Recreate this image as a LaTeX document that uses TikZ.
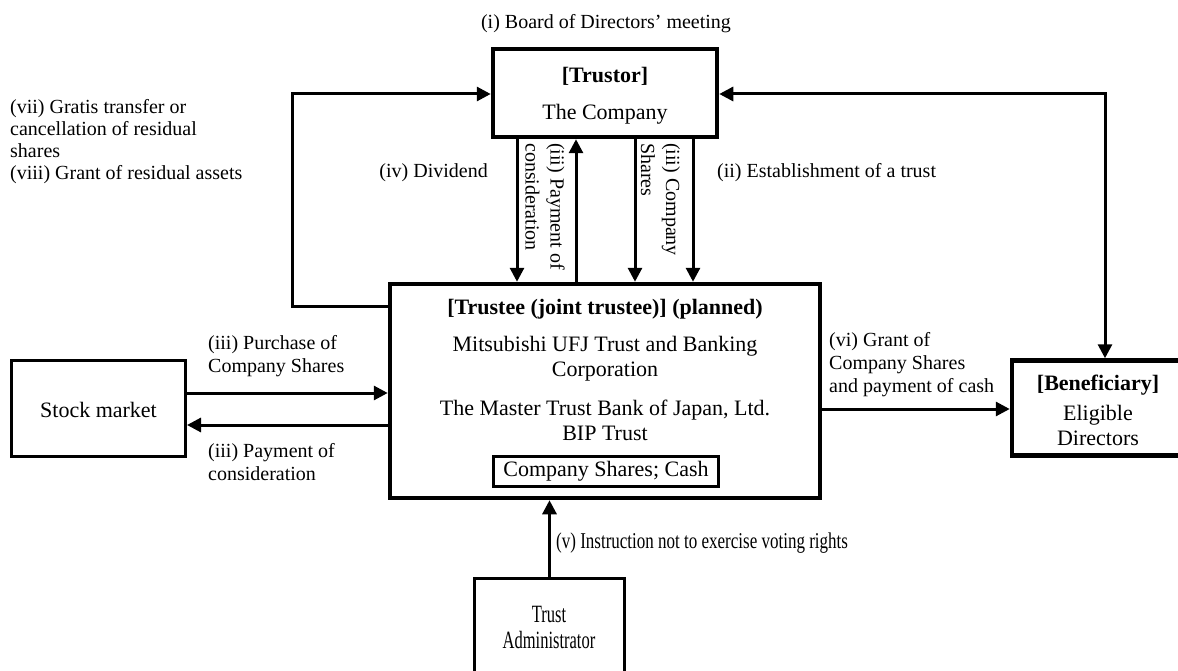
\documentclass[tikz,border=0pt]{standalone}
\usepackage{fontspec}
\usepackage{graphicx}
\setmainfont{Liberation Serif}
\usetikzlibrary{arrows.meta,calc}
\begin{document}
\begin{tikzpicture}[x=1pt,y=-1pt,
  thickbox/.style={draw, line width=4.5pt, inner sep=0pt},
  thinbox/.style={draw, line width=3pt, inner sep=0pt},
  boxtext/.style={font=\fontsize{22}{25}\selectfont, align=center, inner sep=0pt},
  lbl/.style={font=\fontsize{20}{23}\selectfont, inner sep=0pt, align=left},
  arr/.style={line width=3pt, -{Triangle[length=14pt,width=14pt]}},
  darr/.style={line width=3pt, {Triangle[length=14pt,width=14pt]}-{Triangle[length=14pt,width=14pt]}},
]
\useasboundingbox (0,0) rectangle (1178,671);
\clip (0,0) rectangle (1178,671);

% boxes
\node[thickbox, minimum width=224pt, minimum height=88pt] (trustor) at (605,93) {};
\node[boxtext] (trustortext) at (605,96) {\textbf{[Trustor]}\\[12pt]The Company};
\node[thickbox, minimum width=430pt, minimum height=214pt] (trustee) at (605,391) {};
\node[boxtext] (trusteetext) at (605,369.5)
  {\textbf{[Trustee (joint trustee)] (planned)}\\[12pt]Mitsubishi UFJ Trust and Banking\\Corporation\\[14pt]The Master Trust Bank of Japan, Ltd.\\BIP Trust};
\node[thinbox, boxtext, minimum width=225pt, minimum height=30pt] (assets) at (606,471.5)
  {Company Shares; Cash};
\node[thickbox, minimum width=172pt, minimum height=95pt] (benef) at (1098,408) {};
\node[boxtext] (beneftext) at (1098,410.5) {\textbf{[Beneficiary]}\\[5pt]Eligible\\Directors};
\node[thinbox, minimum width=174pt, minimum height=96pt] (stock) at (98.5,408.5) {};
\node[boxtext] (stocktext) at (98.5,410) {Stock market};
\node[thinbox, minimum width=150pt, minimum height=140pt] (admin) at (549.5,648.5) {};
\node[boxtext, font=\fontsize{22}{26}\selectfont] (admintext) at (549,627)
  {\scalebox{0.75}[1.13]{Trust}\\\scalebox{0.75}[1.13]{Administrator}};

% loop connectors
\coordinate (Lc) at (292,306);
\coordinate (Lt) at (292,94);
\draw[arr] (trustee.west |- Lc) -- (Lc) -- (Lt) -- (trustor.west |- Lt);
\coordinate (Rc) at (1105,94);
\draw[darr] (trustor.east |- Rc) -- (Rc) -- (Rc |- benef.north);

% vertical arrows trustor <-> trustee
\coordinate (v1) at (517,0);
\coordinate (v2) at (576,0);
\coordinate (v3) at (635,0);
\coordinate (v4) at (693,0);
\draw[arr] (v1 |- trustor.south) -- (v1 |- trustee.north);
\draw[arr] (v2 |- trustee.north) -- (v2 |- trustor.south);
\draw[arr] (v3 |- trustor.south) -- (v3 |- trustee.north);
\draw[arr] (v4 |- trustor.south) -- (v4 |- trustee.north);

% stock market arrows
\coordinate (s1) at (0,393);
\coordinate (s2) at (0,425);
\draw[arr] (stock.east |- s1) -- (trustee.west |- s1);
\draw[arr] (trustee.west |- s2) -- (stock.east |- s2);

% grant arrow
\coordinate (g) at (0,409);
\draw[arr] (trustee.east |- g) -- (benef.west |- g);

% administrator arrow
\draw[arr] (admin.north) -- (admin.north |- trustee.south);

% labels
\node[lbl] (lboard) at (606,24) {(i) Board of Directors’ meeting};
\node[lbl, font=\fontsize{20}{22}\selectfont, anchor=west] (lgratis) at (10,142)
  {(vii) Gratis transfer or\\cancellation of residual\\shares\\(viii) Grant of residual assets};
\node[lbl, anchor=east] (ldiv) at (488,172.5) {(iv) Dividend};
\node[lbl, anchor=west] (lest) at (717,172.5) {(ii) Establishment of a trust};
\node[lbl, font=\fontsize{20}{25}\selectfont, rotate=-90, anchor=west] (lpayv) at (545,143)
  {(iii) Payment of\\consideration};
\node[lbl, font=\fontsize{20}{25}\selectfont, rotate=-90, anchor=west] (lsharesv) at (660.5,143)
  {(iii) Company\\Shares};
\node[lbl, anchor=west] (lpurch) at (208,356.5) {(iii) Purchase of\\Company Shares};
\node[lbl, anchor=west] (lpay) at (208,462) {(iii) Payment of\\consideration};
\node[lbl, anchor=west] (lgrant) at (829,364.5)
  {(vi) Grant of\\Company Shares\\and payment of cash};
\node[lbl, anchor=west] (linstr) at (556,543)
  {\scalebox{0.85}[1.13]{(v) Instruction not to exercise voting rights}};
\end{tikzpicture}
\end{document}
